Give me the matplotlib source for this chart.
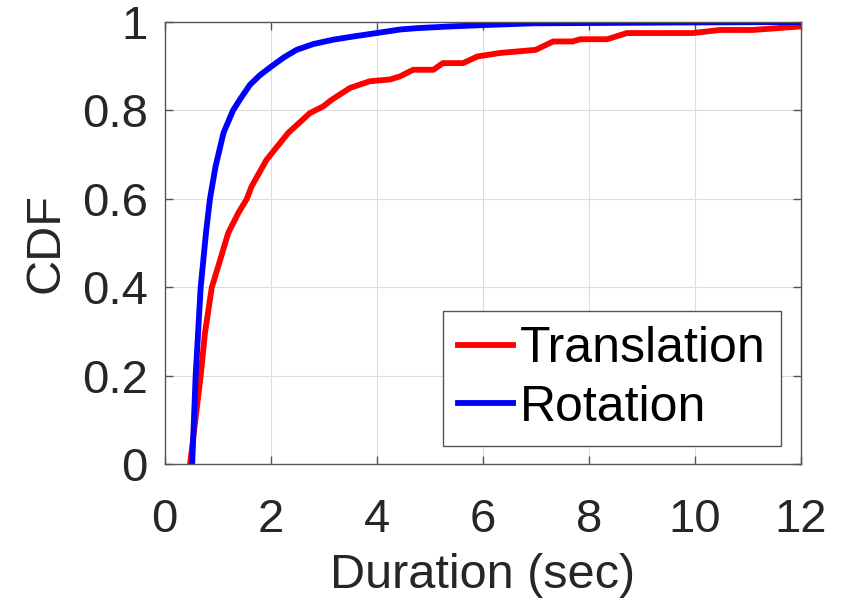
import matplotlib
matplotlib.use("Agg")
import matplotlib.pyplot as plt

plt.rcParams['font.family'] = ['Liberation Sans', 'DejaVu Sans']

# Rotation CDF (blue)
rot_x = [0.52, 0.585, 0.68, 0.78, 0.855, 0.96, 1.11, 1.29, 1.45, 1.61, 1.8, 2.02, 2.25,
         2.49, 2.8, 3.18, 3.6, 4.0, 4.44, 4.75, 5.4, 6.0, 6.95, 8.5, 10.0, 12.0]
rot_y = [0.0, 0.2, 0.4, 0.523, 0.6, 0.673, 0.749, 0.8, 0.83, 0.858, 0.88, 0.9, 0.92,
         0.937, 0.95, 0.96, 0.968, 0.975, 0.983, 0.986, 0.99, 0.993, 0.997, 0.998, 0.999, 1.0]

# Translation CDF (red)
tra_x = [0.48, 0.58, 0.68, 0.76, 0.89, 1.01, 1.2, 1.39, 1.55, 1.64, 1.92, 2.33, 2.74, 2.99,
         3.15, 3.5, 3.87, 4.25, 4.44, 4.69, 5.07, 5.25, 5.63, 5.9, 6.33, 7.0, 7.33, 7.7,
         7.84, 8.35, 8.72, 9.97, 10.48, 11.1, 12.0]
tra_y = [0.0, 0.1, 0.2, 0.296, 0.4, 0.447, 0.523, 0.568, 0.6, 0.628, 0.688, 0.749, 0.794, 0.809,
         0.824, 0.851, 0.866, 0.87, 0.877, 0.892, 0.892, 0.907, 0.907, 0.922, 0.93, 0.937, 0.956, 0.956,
         0.961, 0.961, 0.975, 0.975, 0.982, 0.982, 0.99]

xticks = [0, 2, 4, 6, 8, 10, 12]
yticks = [0, 0.2, 0.4, 0.6, 0.8, 1]
yticklabels = ['0', '0.2', '0.4', '0.6', '0.8', '1']

fig = plt.figure(figsize=(8.53, 6.06), dpi=100)
ax = fig.add_axes([0.193, 0.234, 0.7457, 0.7297])

dark = '#262626'
ax.plot(tra_x, tra_y, color='#ff0000', lw=4.2, label='Translation')
ax.plot(rot_x, rot_y, color='#0000ff', lw=4.2, label='Rotation')

ax.set_xlim(0, 12)
ax.set_ylim(0, 1)
ax.set_xticks(xticks)
ax.set_xticklabels([str(t) for t in xticks])
ax.set_yticks(yticks)
ax.set_yticklabels(yticklabels)
ax.grid(True, color='#dcdcdc', lw=0.8)
ax.set_axisbelow(True)
for s in ax.spines.values():
    s.set_color('#555555')
    s.set_linewidth(1.0)
ax.tick_params(direction='in', length=6, width=1.0, colors='#555555', labelcolor=dark,
               labelsize=34, top=True, right=True)
ax.tick_params(axis='x', pad=24)
ax.tick_params(axis='y', pad=12)

ax.set_xlabel('Duration (sec)', fontsize=35, color=dark, labelpad=8)
ax.set_ylabel('CDF', fontsize=35, color=dark, labelpad=10)

leg = ax.legend(loc='lower right', bbox_to_anchor=(0.969, 0.042), borderaxespad=0,
                fontsize=36, handlelength=1.1, handletextpad=0.15, labelspacing=0.25,
                borderpad=0.3, fancybox=False, framealpha=1)
leg.get_frame().set_edgecolor('#555555')
leg.get_frame().set_linewidth(1.0)
for t in leg.get_texts():
    t.set_color('black')

fig.savefig('out.png', dpi=100)
